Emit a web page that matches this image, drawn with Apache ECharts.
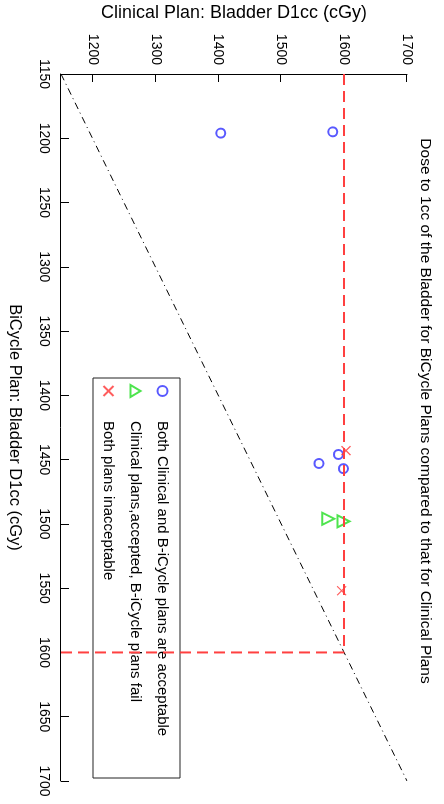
<!DOCTYPE html>
<html>
<head>
<meta charset="utf-8">
<script src="https://cdn.jsdelivr.net/npm/echarts@6/dist/echarts.min.js"></script>
<style>
    html, body { margin: 0; padding: 0; overflow: hidden; background: #fff; }
    /* figure is laid out upright (804x444) and turned a quarter turn clockwise */
    #main {
        position: absolute; left: 0; top: 0;
        width: 804px; height: 444px;
        transform-origin: 0 0;
        transform: translate(444px, 0) rotate(90deg);
    }
</style>
</head>
<body>
<div id="main"></div>
<script>
var axisMin = 1150;
var axisMax = 1700;
var limit = 1600;
var clinicalTicks = [1200, 1300, 1400, 1500, 1600, 1700];

// x = BiCycle plan, y = clinical plan
var bothOkBicycle = [1196, 1195, 1446, 1453, 1457];
var bothOkClinical = [1404, 1582, 1591, 1560, 1599];
var clinicalOnlyBicycle = [1496, 1498];
var clinicalOnlyClinical = [1575, 1599];
var noneOkBicycle = [1443, 1552];
var noneOkClinical = [1603, 1596];

var names = [
    'Both Clinical and B-iCycle plans are acceptable',
    'Clinical plans,accepted, B-iCycle plans fail',
    'Both plans inacceptable'
];

var font = "'Liberation Sans', Arial, sans-serif";

function zip(xs, ys) {
    return xs.map(function (x, i) { return [x, ys[i]]; });
}

function plain(v) {
    return String(v);
}

var myChart = echarts.init(document.getElementById('main'), null, { renderer: 'canvas' });

myChart.setOption({
    animation: false,
    backgroundColor: '#fff',
    title: {
        text: 'Dose to 1cc of the Bladder for BiCycle Plans compared to that for Clinical Plans',
        left: 411,
        textAlign: 'center',
        top: 11,
        padding: 0,
        textStyle: { fontFamily: font, fontSize: 15.5, fontWeight: 'normal', color: '#000' }
    },
    legend: {
        data: names,
        orient: 'vertical',
        left: 378,
        top: 264,
        padding: [10, 8, 8, 6],
        itemWidth: 12,
        itemHeight: 10,
        itemGap: 12,
        symbolKeepAspect: true,
        backgroundColor: '#fff',
        borderColor: '#222',
        borderWidth: 1,
        borderRadius: 0,
        textStyle: {
            fontFamily: font, fontSize: 15, lineHeight: 14, color: '#000',
            padding: [0, 0, 0, 19], width: 349
        }
    },
    grid: { left: 74, right: 23, top: 37, bottom: 61, outerBoundsMode: 'none' },
    xAxis: {
        type: 'value',
        min: axisMin,
        max: axisMax,
        interval: 50,
        name: 'BiCycle Plan: Bladder D1cc (cGy)',
        nameLocation: 'middle',
        nameGap: 38,
        nameTextStyle: { fontFamily: font, fontSize: 16.5, color: '#000' },
        axisLine: { lineStyle: { color: '#000', width: 1 } },
        axisTick: { inside: true, length: 8, lineStyle: { color: '#000' } },
        axisLabel: { fontFamily: font, fontSize: 14, color: '#000', margin: 10, formatter: plain },
        splitLine: { show: false }
    },
    yAxis: {
        type: 'value',
        min: axisMin,
        max: axisMax,
        name: 'Clinical Plan: Bladder D1cc (cGy)',
        nameLocation: 'middle',
        nameRotate: 90,
        nameGap: 52,
        nameTextStyle: { fontFamily: font, fontSize: 18, color: '#000' },
        axisLine: { show: true, lineStyle: { color: '#000', width: 1 } },
        axisTick: { show: true, inside: true, length: 8, customValues: clinicalTicks, lineStyle: { color: '#000' } },
        axisLabel: { fontFamily: font, fontSize: 14, color: '#000', margin: 9, customValues: clinicalTicks, formatter: plain },
        splitLine: { show: false }
    },
    series: [
        {
            // identity line
            type: 'line',
            silent: true,
            symbol: 'none',
            data: [[axisMin, axisMin], [axisMax, axisMax]],
            lineStyle: { color: '#000', width: 1, type: [7, 4, 1, 4] },
            z: 1
        },
        {
            name: names[0],
            type: 'scatter',
            symbol: 'emptyCircle',
            symbolSize: 9,
            data: zip(bothOkBicycle, bothOkClinical),
            itemStyle: { color: '#3030ff', borderColor: '#3030ff', borderWidth: 1.5 },
            z: 2
        },
        {
            name: names[1],
            type: 'scatter',
            symbol: 'emptyTriangle',
            symbolSize: 12,
            data: zip(clinicalOnlyBicycle, clinicalOnlyClinical),
            itemStyle: { color: '#22dd22', borderColor: '#22dd22', borderWidth: 1.5 },
            z: 2
        },
        {
            name: names[2],
            type: 'scatter',
            symbol: 'path://M0,0L10,10M10,0L0,10',
            symbolSize: 9,
            data: zip(noneOkBicycle, noneOkClinical),
            itemStyle: { color: 'transparent', borderColor: '#ff3535', borderWidth: 1.2 },
            z: 3
        },
        {
            // clinical limit
            type: 'line',
            silent: true,
            symbol: 'none',
            data: [[axisMin, limit], [limit, limit]],
            lineStyle: { color: '#ff4040', width: 2, type: [11, 6] },
            z: 4
        },
        {
            // BiCycle limit
            type: 'line',
            silent: true,
            symbol: 'none',
            data: [[limit, axisMin], [limit, limit]],
            lineStyle: { color: '#ff4040', width: 2, type: [11, 6] },
            z: 4
        }
    ]
});
</script>
</body>
</html>
